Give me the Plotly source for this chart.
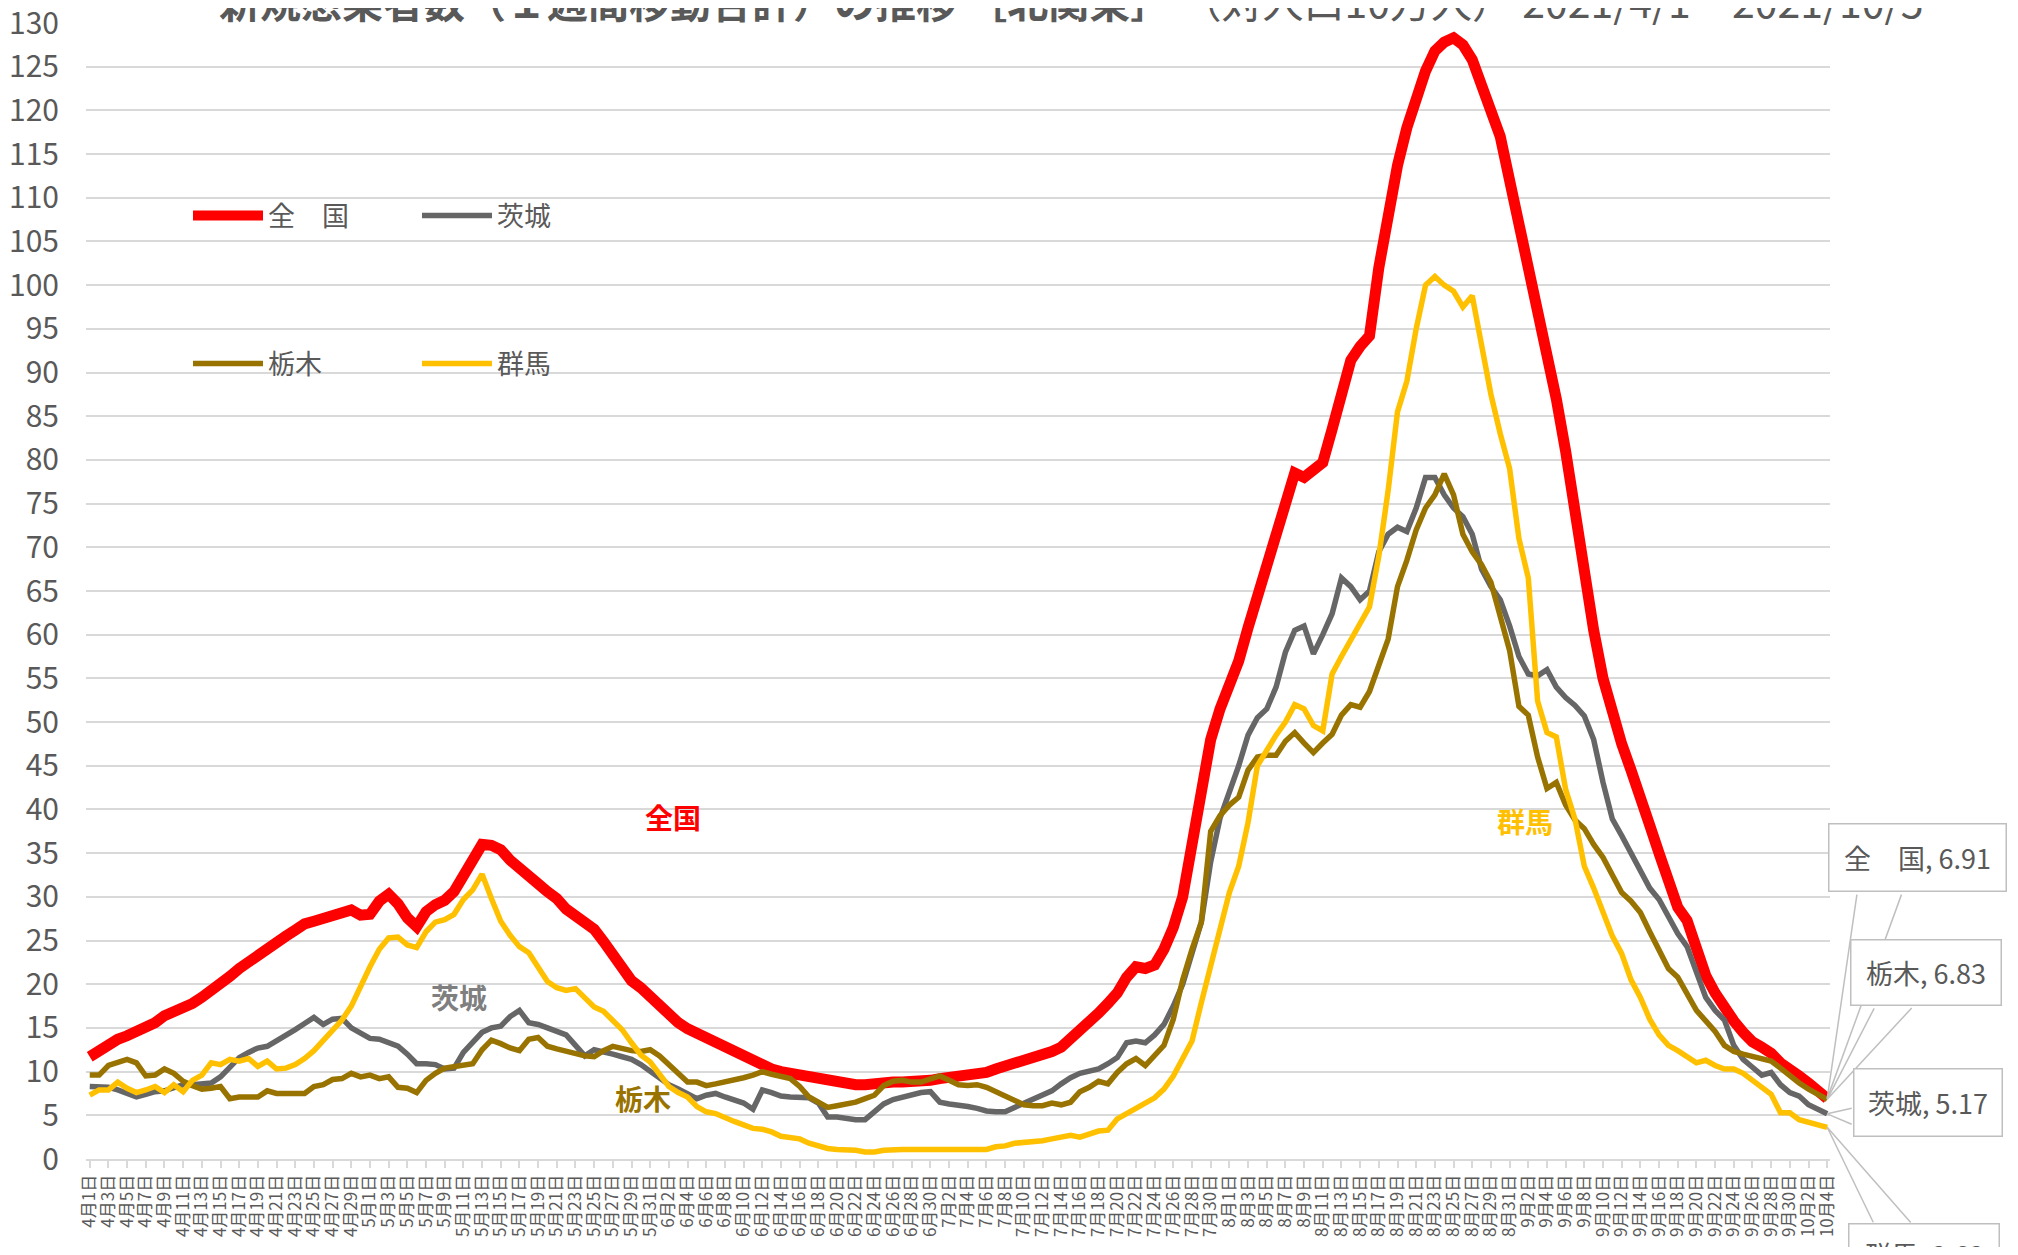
import pandas as pd
import plotly.graph_objects as go

# --- data ---------------------------------------------------------------
START = "2021-04-01"
END = "2021-10-04"
dates = pd.date_range(START, END, freq="D")
categories = [f"{d.month}月{d.day}日" for d in dates]
tick_labels = categories[::2]

names = ["全　国", "茨城", "栃木", "群馬"]

zenkoku = [
    11.7, 12.4, 13.0, 13.7, 14.1, 14.5, 14.9, 15.6, 16.4, 16.8,
    17.1, 17.8, 18.5, 19.2, 20.1, 20.9, 21.8, 22.6, 23.4, 24.2,
    25.0, 25.5, 26.2, 26.9, 27.2, 27.6, 28.0, 28.3, 28.5, 27.9,
    28.0, 29.5, 30.3, 29.2, 27.6, 26.6, 28.3, 29.1, 29.6, 30.6,
    32.6, 34.4, 36.0, 35.9, 35.4, 34.2, 33.4, 32.5, 31.5, 30.6,
    29.8, 28.6, 27.7, 26.8, 26.3, 24.9, 23.5, 21.6, 20.4, 19.6,
    18.5, 17.6, 16.4, 15.6, 14.9, 14.4, 13.8, 13.3, 12.7, 12.2,
    11.6, 11.1, 10.6, 10.3, 10.0, 9.8, 9.5, 9.3, 9.0, 8.8,
    8.6, 8.5, 8.5, 8.5, 8.7, 8.8, 8.8, 8.8, 8.8, 8.9,
    9.0, 9.2, 9.3, 9.5, 9.6, 9.7, 9.9, 10.3, 10.6, 10.9,
    11.2, 11.5, 11.8, 12.3, 12.8, 13.7, 14.8, 15.8, 16.7, 17.8,
    19.0, 20.8, 22.0, 21.8, 22.2, 24.0, 26.5, 30.0, 36.5, 42.5,
    48.0, 51.5, 54.0, 57.0, 60.8, 64.5, 68.3, 72.0, 75.5, 78.5,
    78.0, 78.8, 79.7, 83.5, 87.5, 91.4, 93.0, 94.2, 102.0, 108.5,
    113.7, 118.0, 121.6, 124.5, 126.8, 127.8, 128.3, 127.5, 125.8, 123.0,
    120.0, 117.0, 112.0, 107.0, 103.2, 97.0, 92.0, 87.0, 81.0, 73.5,
    67.0, 60.5, 55.0, 51.0, 47.5, 44.5, 40.8, 38.2, 35.0, 31.5,
    28.8, 27.3, 24.0, 21.0, 19.0, 17.2, 15.8, 14.5, 13.4, 12.8,
    12.1, 11.0, 10.4, 9.5, 8.7, 7.8, 6.91,
]

ibaraki = [
    8.3, 8.3, 8.2, 7.9, 7.5, 7.1, 7.4, 7.7, 7.8, 8.1,
    8.5, 8.5, 8.6, 8.7, 9.4, 10.5, 11.6, 12.2, 12.7, 12.9,
    13.5, 14.2, 14.8, 15.5, 16.2, 15.4, 16.0, 16.1, 15.0, 14.4,
    13.8, 13.7, 13.3, 12.9, 12.0, 10.9, 10.9, 10.8, 10.3, 10.4,
    12.2, 13.4, 14.5, 15.0, 15.2, 16.3, 17.0, 15.6, 15.4, 15.0,
    14.6, 14.2, 13.0, 11.8, 12.5, 12.3, 12.0, 11.7, 11.4, 10.8,
    10.0, 9.2, 8.5, 8.0, 7.4, 6.9, 7.3, 7.5, 7.1, 6.8,
    6.4, 5.7, 7.9, 7.6, 7.2, 7.1, 7.1, 7.0, 6.4, 4.8,
    4.8, 4.6, 4.5, 4.5, 5.4, 6.3, 6.8, 7.1, 7.4, 7.6,
    7.7, 6.5, 6.3, 6.2, 6.0, 5.8, 5.5, 5.4, 5.4, 5.9,
    6.4, 6.8, 7.3, 7.8, 8.6, 9.3, 9.8, 10.0, 10.3, 10.9,
    11.6, 13.3, 13.5, 13.3, 14.2, 15.4, 17.5, 20.0, 23.5, 27.1,
    34.0, 39.0, 42.0, 45.0, 48.5, 50.5, 51.5, 54.0, 58.0, 60.5,
    61.0, 57.8, 60.0, 62.4, 66.5, 65.5, 64.0, 65.0, 69.5, 71.5,
    72.3, 71.8, 74.5, 78.0, 78.0, 76.0, 74.5, 73.5, 71.5, 67.5,
    65.5, 64.0, 61.0, 57.5, 55.5, 55.3, 56.0, 54.0, 52.8, 51.9,
    50.7, 48.0, 43.1, 38.9, 37.0, 35.0, 32.8, 31.0, 29.7, 27.8,
    25.8, 24.3, 21.5, 18.5, 17.0, 15.9, 13.0, 11.4, 10.5, 9.6,
    9.9, 8.5, 7.6, 7.2, 6.2, 5.7, 5.17,
]

tochigi = [
    9.6, 9.6, 10.7, 11.1, 11.4, 11.0, 9.5, 9.6, 10.3, 9.8,
    8.9, 8.4, 8.0, 8.1, 8.3, 6.9, 7.1, 7.1, 7.1, 7.8,
    7.5, 7.5, 7.5, 7.5, 8.3, 8.5, 9.1, 9.2, 9.8, 9.4,
    9.6, 9.2, 9.4, 8.2, 8.1, 7.6, 9.0, 9.8, 10.4, 10.6,
    10.7, 10.9, 12.5, 13.6, 13.2, 12.7, 12.4, 13.7, 13.9, 12.9,
    12.6, 12.3, 12.0, 11.8, 11.7, 12.4, 12.9, 12.6, 12.4, 12.3,
    12.5, 11.8, 10.8, 9.6, 8.8, 8.8, 8.4, 8.6, 8.8, 9.0,
    9.3, 9.6, 10.0, 9.7, 9.5, 9.2, 8.3, 7.1, 6.5, 5.9,
    6.1, 6.3, 6.5, 6.9, 7.3, 8.4, 8.9, 9.0, 8.8, 8.8,
    9.1, 9.5, 9.0, 8.5, 8.4, 8.5, 8.2, 7.7, 7.1, 6.6,
    6.2, 6.1, 6.1, 6.4, 6.2, 6.5, 7.7, 8.2, 8.9, 8.6,
    9.9, 10.9, 11.5, 10.7, 11.8, 13.0, 16.0, 20.5, 24.0, 27.1,
    37.5, 39.3, 40.5, 41.4, 44.5, 46.0, 46.2, 46.2, 47.8, 48.8,
    47.6, 46.5, 47.6, 48.6, 50.8, 52.0, 51.7, 53.5, 56.5, 59.5,
    65.5, 68.5, 72.0, 74.5, 76.0, 78.4, 76.0, 71.5, 69.5, 68.0,
    66.0, 62.0, 58.2, 51.8, 50.8, 46.0, 42.4, 43.1, 40.5, 38.8,
    37.8, 36.0, 34.5, 32.5, 30.5, 29.5, 28.2, 26.0, 24.0, 21.8,
    20.8, 18.8, 17.0, 15.8, 14.6, 13.0, 12.3, 12.0, 11.7, 11.4,
    11.2, 10.4, 9.5, 8.7, 8.0, 7.5, 6.83,
]

gunma = [
    7.3, 7.9, 7.9, 8.8, 8.1, 7.6, 7.9, 8.3, 7.6, 8.5,
    7.7, 9.0, 9.6, 11.0, 10.8, 11.4, 11.2, 11.5, 10.6, 11.2,
    10.3, 10.4, 10.8, 11.5, 12.4, 13.5, 14.6, 15.9, 17.5, 19.8,
    22.0, 24.0, 25.3, 25.4, 24.5, 24.2, 26.0, 27.1, 27.4, 28.0,
    29.7, 30.8, 32.6, 29.8, 27.2, 25.6, 24.3, 23.6, 21.8, 20.3,
    19.6, 19.3, 19.5, 18.5, 17.4, 16.9, 15.9, 14.8, 13.3, 11.9,
    11.1, 9.6, 8.3, 7.6, 7.1, 6.0, 5.4, 5.2, 4.7, 4.3,
    3.9, 3.5, 3.4, 3.1, 2.6, 2.4, 2.3, 1.8, 1.5, 1.2,
    1.1, 1.1, 1.0, 0.8, 0.8, 1.0, 1.1, 1.1, 1.1, 1.1,
    1.1, 1.1, 1.1, 1.1, 1.1, 1.1, 1.1, 1.4, 1.5, 1.8,
    1.9, 1.9, 2.1, 2.3, 2.5, 2.7, 2.5, 2.9, 3.2, 3.3,
    4.6, 5.2, 5.8, 6.3, 7.0, 8.0, 9.5, 11.5, 13.5, 17.9,
    22.3, 26.7, 30.5, 33.5, 38.5, 45.0, 46.8, 48.5, 50.0, 52.0,
    51.5, 49.6, 49.0, 55.5, 57.5, 59.5, 61.2, 63.2, 69.0, 76.5,
    85.5, 89.0, 95.0, 100.0, 101.0, 100.0, 99.3, 97.5, 98.8, 93.0,
    87.5, 83.0, 79.0, 71.0, 66.5, 52.4, 48.8, 48.3, 42.3, 38.9,
    33.5, 31.0, 28.2, 25.5, 23.5, 20.5, 18.5, 16.0, 14.2, 13.0,
    12.4, 11.7, 11.0, 11.3, 10.7, 10.3, 10.3, 9.8, 9.0, 8.2,
    7.4, 5.3, 5.3, 4.5, 4.2, 3.9, 3.63,
]

series = [zenkoku, ibaraki, tochigi, gunma]
colors = ["#FF0000", "#666666", "#997300", "#FFC000"]
widths = [11, 5.5, 5.5, 5.5]
legends = ["legend", "legend", "legend2", "legend2"]

# --- layout helpers -------------------------------------------------------
# the page body has an 8px margin, so the figure is a bit smaller than the window
W, H = 2018 - 16, 1255 - 16
ML, MT = 78, 15
PW, PH = 1744, 1136
MR, MB = W - ML - PW, H - MT - PH
FONT = "Noto Sans CJK JP, Noto Sans, sans-serif"
GREY_TXT = "#595959"


def px(x):
    # page pixel -> paper fraction
    return (x - 8 - ML) / PW


def py(y):
    return (MT + PH - (y - 8)) / PH


fig = go.Figure()
for name, vals, col, w, lg in zip(names, series, colors, widths, legends):
    fig.add_trace(go.Scatter(
        x=categories, y=vals, mode="lines", name=name, legend=lg,
        line=dict(color=col, width=w), hoverinfo="skip",
    ))

annotations = []

# title (cut at the top, as in the original)
annotations.append(dict(
    xref="paper", yref="paper", x=px(1071), y=py(0), xanchor="center", yanchor="middle",
    text="<b>新規感染者数（１週間移動合計）の推移 ［北関東］</b> （対人口10万人） 2021/4/1 ~ 2021/10/5",
    showarrow=False, font=dict(family=FONT, size=41, color=GREY_TXT),
))

# inline series labels
inline = [("全国", 673, 817, colors[0]), ("茨城", 459, 997, "#7F7F7F"),
          ("栃木", 643, 1098, colors[2]), ("群馬", 1525, 821, colors[3])]
for txt, x, y, c in inline:
    annotations.append(dict(
        xref="paper", yref="paper", x=px(x), y=py(y), xanchor="center", yanchor="middle",
        text=f"<b>{txt}</b>", showarrow=False, font=dict(family=FONT, size=28, color=c),
    ))

# end-of-line callouts: box offset, box size, two leader ends (pixels from the last point)
callouts = [
    ((90, -241), (176, 66), [(30, -206), (75, -206)]),
    ((101, -11), (147, 66), [(26, -6), (26, 11)]),
    ((99, -127), (149, 64), [(48, -93), (86, -93)]),
    ((97, 127), (149, 60), [(47, 97), (85, 97)]),
]
boxes = []
for name, vals, (off, size, leaders) in zip(names, series, callouts):
    for ax, ay in leaders:
        annotations.append(dict(
            xref="x", yref="y", x=len(vals) - 1, y=vals[-1], ax=ax, ay=ay,
            text=" ", font=dict(size=1), showarrow=True, arrowhead=0,
            arrowwidth=1.5, arrowcolor="#BFBFBF", standoff=0,
        ))
    boxes.append(dict(
        xref="x", yref="y", x=len(vals) - 1, y=vals[-1], xshift=off[0], yshift=-off[1],
        xanchor="center", yanchor="middle", showarrow=False,
        text=f"{name}, {vals[-1]:.2f}", width=size[0], height=size[1],
        bgcolor="white", bordercolor="#BFBFBF", borderwidth=1.5, borderpad=0,
        font=dict(family=FONT, size=27, color=GREY_TXT),
    ))
annotations += boxes

legend_style = dict(
    orientation="h", xanchor="left", yanchor="middle", bgcolor="rgba(0,0,0,0)",
    entrywidth=144, entrywidthmode="pixels", itemwidth=70,
    font=dict(family=FONT, size=27, color=GREY_TXT),
)

fig.update_layout(
    width=W, height=H,
    margin=dict(l=ML, r=MR, t=MT, b=MB),
    paper_bgcolor="white", plot_bgcolor="white",
    font=dict(family=FONT, color=GREY_TXT),
    showlegend=True,
    legend=dict(x=px(188), y=py(216), **legend_style),
    legend2=dict(x=px(188), y=py(364), **legend_style),
    annotations=annotations,
    xaxis=dict(
        type="category", range=[-0.4, 186.3],
        tickmode="array", tickvals=tick_labels, ticktext=tick_labels,
        tickangle=-90, tickfont=dict(family=FONT, size=17, color=GREY_TXT),
        showgrid=False, showline=True, linecolor="#D9D9D9", linewidth=2,
        ticks="outside", ticklen=7, tickcolor="#D9D9D9", tickwidth=1.5,
        automargin=False, zeroline=False,
    ),
    yaxis=dict(
        range=[0, 130], dtick=5, tick0=0,
        showgrid=True, gridcolor="#D9D9D9", gridwidth=1.5,
        zeroline=False, showline=False, ticks="",
        tickfont=dict(family=FONT, size=30, color=GREY_TXT),
        ticklabelstandoff=26, ticklabeloverflow="allow", automargin=False,
    ),
)

fig.write_html("out.html")
